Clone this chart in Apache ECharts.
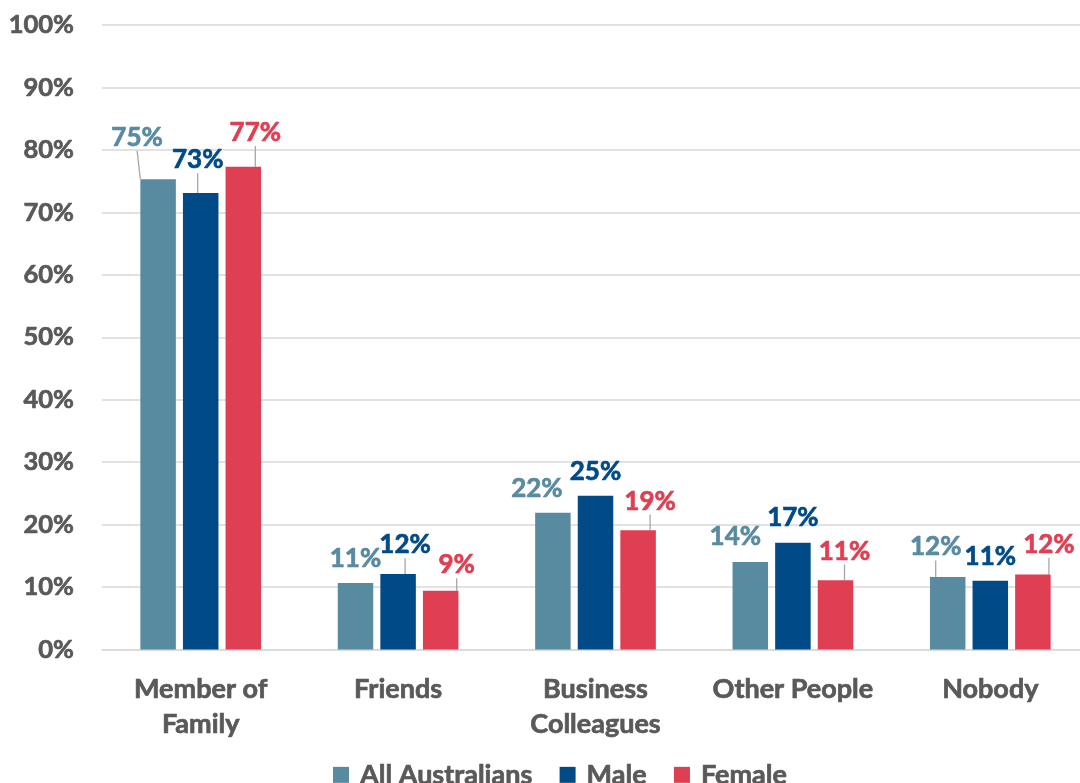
<!DOCTYPE html>
<html>
<head>
<meta charset="utf-8">
<script src="https://cdn.jsdelivr.net/npm/echarts@6/dist/echarts.min.js"></script>
<style>
html,body{margin:0;padding:0;background:#fff;overflow:hidden;width:1080px;height:783px;}
#chart{width:1089px;height:783px;}
</style>
</head>
<body>
<div id="chart"></div>
<script>
const categories = ['Member of\nFamily', 'Friends', 'Business\nColleagues', 'Other People', 'Nobody'];
const seriesNames = ['All Australians', 'Male', 'Female'];
const allAustralians = [75.3, 10.65, 21.9, 14.0, 11.6];
const male = [73.1, 12.1, 24.6, 17.1, 11.0];
const female = [77.3, 9.4, 19.1, 11.1, 12.0];
const yTicks = [0, 10, 20, 30, 40, 50, 60, 70, 80, 90, 100];

// label nudges (dx, dy) and whether a leader line is shown
const labelNudges = [
  [[-21, -24], [0, -6], [-16, -6], [-15, -7], [-12, -12]],
  [[-3, -15], [7, -11], [0, -6], [0, -7], [0, -6]],
  [[12, -16], [16, -8], [12, -11], [9, -11], [16, -12]]
];
const leaderShown = [
  [true, false, false, false, true],
  [true, true, false, false, false],
  [true, true, true, true, true]
];

const colors = ['#588B9F', '#004A87', '#E03E52'];
const FONT = 'Lato';
const WEIGHT = 'bold';
const TXT = '#595959';
const THICK = 0.7;

const chart = echarts.init(document.getElementById('chart'));

function makeSeries(name, values, idx) {
  return {
    name: name,
    type: 'bar',
    barWidth: 35.5,
    barGap: '20%',
    itemStyle: { color: colors[idx] },
    data: values.map((v, i) => ({
      value: v,
      labelLine: { show: leaderShown[idx][i] }
    })),
    label: {
      show: true,
      position: 'top',
      distance: 5,
      color: colors[idx],
      textBorderColor: colors[idx],
      textBorderWidth: THICK,
      fontFamily: FONT,
      fontWeight: WEIGHT,
      fontSize: 26,
      formatter: p => Math.round(p.value) + '%'
    },
    labelLine: {
      show: false,
      length2: 0,
      lineStyle: { color: '#A6A6A6', width: 1.3 }
    },
    labelLayout: function (p) {
      const n = labelNudges[idx][p.dataIndex];
      return { dx: n[0], dy: n[1] };
    }
  };
}

chart.setOption({
  animation: false,
  textStyle: { fontFamily: FONT },
  grid: { left: 102, right: 0, top: 25, bottom: 133.5, containLabel: false },
  legend: {
    data: seriesNames,
    left: 328,
    top: 756,
    icon: 'rect',
    itemWidth: 16,
    itemHeight: 16,
    itemGap: 27,
    textStyle: { color: TXT, textBorderColor: TXT, textBorderWidth: THICK, fontFamily: FONT, fontWeight: WEIGHT, fontSize: 27, padding: [0, 0, 0, 6] }
  },
  xAxis: {
    type: 'category',
    data: categories,
    axisLine: { show: true, lineStyle: { color: '#D9D9D9', width: 1.5 } },
    axisTick: { show: false },
    axisLabel: {
      color: TXT, textBorderColor: TXT, textBorderWidth: THICK,
      fontFamily: FONT, fontWeight: WEIGHT, fontSize: 27,
      lineHeight: 35, margin: 22, interval: 0
    }
  },
  yAxis: {
    type: 'value',
    min: yTicks[0],
    max: yTicks[yTicks.length - 1],
    interval: 10,
    axisLine: { show: false },
    axisTick: { show: false },
    splitLine: { lineStyle: { color: '#D9D9D9', width: 1.5 } },
    axisLabel: {
      color: TXT, textBorderColor: TXT, textBorderWidth: THICK,
      fontFamily: FONT, fontWeight: WEIGHT, fontSize: 25.5,
      margin: 28, formatter: '{value}%'
    }
  },
  series: [
    makeSeries(seriesNames[0], allAustralians, 0),
    makeSeries(seriesNames[1], male, 1),
    makeSeries(seriesNames[2], female, 2)
  ]
});
</script>
</body>
</html>
